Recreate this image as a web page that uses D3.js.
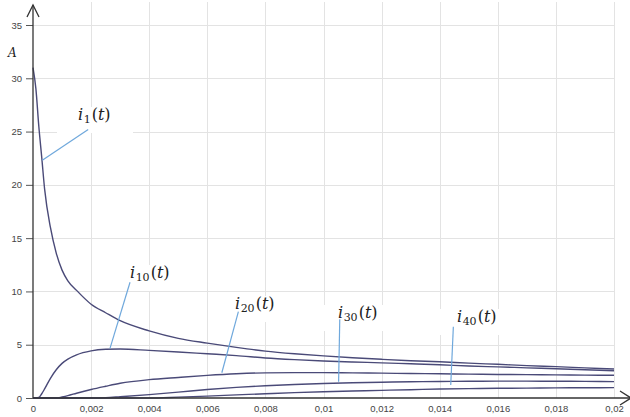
<!DOCTYPE html>
<html>
<head>
<meta charset="utf-8">
<script src="https://cdn.jsdelivr.net/npm/d3@7"></script>
<style>
  html, body { margin: 0; padding: 0; background: #fff; }
  svg { display: block; }
</style>
</head>
<body>
<svg id="chart" width="630" height="417"></svg>
<script>
// ---- data ----
const tVals = [0, 0.0001, 0.0002, 0.0003, 0.0004, 0.0006, 0.0008, 0.001, 0.0012, 0.0015, 0.002, 0.0025, 0.003,
  0.004, 0.005, 0.006, 0.007, 0.008, 0.009, 0.01, 0.011, 0.012, 0.013, 0.014, 0.015, 0.016, 0.017, 0.018, 0.019, 0.02];
const i1  = [31, 29.0, 25.5, 22.6, 19.6, 16.0, 13.6, 12.0, 11.0, 10.1, 8.8, 8.0, 7.25,
  6.3, 5.6, 5.15, 4.75, 4.4, 4.15, 3.95, 3.78, 3.63, 3.5, 3.4, 3.27, 3.16, 3.04, 2.94, 2.83, 2.72];
const i10 = [0, 0, 0.05, 0.4, 0.85, 1.85, 2.65, 3.25, 3.65, 4.05, 4.42, 4.57, 4.6,
  4.47, 4.32, 4.15, 3.98, 3.76, 3.6, 3.47, 3.38, 3.3, 3.21, 3.12, 3.0, 2.92, 2.83, 2.74, 2.65, 2.56];
const i20 = [0, 0, 0, 0, 0, 0, 0, 0.1, 0.22, 0.45, 0.8, 1.1, 1.38,
  1.72, 1.93, 2.12, 2.27, 2.36, 2.38, 2.38, 2.36, 2.33, 2.3, 2.27, 2.24, 2.21, 2.19, 2.17, 2.15, 2.13];
const i30 = [0, 0, 0, 0, 0, 0, 0, 0, 0, 0, 0, 0.03, 0.12,
  0.32, 0.55, 0.8, 1.0, 1.15, 1.27, 1.36, 1.43, 1.48, 1.52, 1.55, 1.57, 1.58, 1.58, 1.57, 1.56, 1.54];
const i40 = [0, 0, 0, 0, 0, 0, 0, 0, 0, 0, 0, 0, 0,
  0, 0.08, 0.18, 0.29, 0.4, 0.5, 0.58, 0.65, 0.72, 0.78, 0.84, 0.88, 0.91, 0.93, 0.95, 0.96, 0.97];
const seriesNames = ["1", "10", "20", "30", "40"];
const xTicks = [0, 0.002, 0.004, 0.006, 0.008, 0.01, 0.012, 0.014, 0.016, 0.018, 0.02];
const yTicks = [0, 5, 10, 15, 20, 25, 30, 35];
// leader anchors in data units
const leaderCurveT = [0.00032, 0.00265, 0.0065, 0.01052, 0.01438];
const leaderCurveV = [22.3, 4.66, 2.37, 1.53, 1.22];
const leaderLabelT = [0.0019, 0.00334, 0.00707, 0.01056, 0.01447];
const leaderLabelV = [25.2, 10.86, 8.1, 7.38, 6.69];

// ---- layout ----
const svg = d3.select("#chart");
const x = d3.scaleLinear().domain([0, 0.02]).range([33, 614]);
const y = d3.scaleLinear().domain([0, 35]).range([398, 25]);

const seriesVals = [i1, i10, i20, i30, i40];
const series = seriesNames.map((n, k) => ({ name: n, pts: tVals.map((t, j) => [t, seriesVals[k][j]]) }));

// grid
const grid = svg.append("g").attr("stroke", "#e3e3e3").attr("stroke-width", 1);
grid.selectAll(".vg").data(xTicks.filter(d => d > 0)).join("line")
  .attr("x1", d => Math.round(x(d)) + 0.5).attr("x2", d => Math.round(x(d)) + 0.5)
  .attr("y1", 2).attr("y2", y(0));
grid.selectAll(".hg").data(yTicks.filter(d => d > 0)).join("line")
  .attr("x1", x(0)).attr("x2", x(0.02) + 0.5)
  .attr("y1", d => Math.round(y(d)) + 0.5).attr("y2", d => Math.round(y(d)) + 0.5);

// label positions (pixels) and white boxes
const labelPos = [[78, 120], [130, 278], [235, 309], [338, 318], [457, 322]];
const boxes = svg.append("g");
labelPos.forEach(([lx, ly], k) => {
  boxes.append("rect").attr("x", lx - 21).attr("y", ly - 13)
    .attr("width", seriesNames[k].length > 1 ? 80 : 76).attr("height", 26).attr("fill", "#fff");
});

// axes
const tickFont = "'Liberation Sans', Arial, sans-serif";
const yAxis = d3.axisLeft(y).tickValues(yTicks).tickSize(7).tickPadding(4).tickFormat(d3.format("d"));
const gy = svg.append("g").attr("transform", `translate(${x(0)},0)`).call(yAxis);
gy.select(".domain").remove();
gy.selectAll(".tick line").attr("stroke", "#555");
gy.selectAll(".tick text").attr("fill", "#444").style("font-family", tickFont).style("font-size", "9.5px");

const xAxis = d3.axisBottom(x).tickValues(xTicks).tickSize(0).tickPadding(7)
  .tickFormat(d => String(d).replace(".", ","));
const gx = svg.append("g").attr("transform", `translate(0,${y(0)})`).call(xAxis);
gx.select(".domain").remove();
gx.selectAll(".tick text").attr("fill", "#444").style("font-family", tickFont).style("font-size", "9.5px");

// curves
const line = d3.line().x(d => x(d[0])).y(d => y(d[1])).curve(d3.curveMonotoneX);
svg.append("g").selectAll("path").data(series).join("path")
  .attr("d", d => line(d.pts)).attr("fill", "none")
  .attr("stroke", "#4a4a78").attr("stroke-width", 1.4);

// axis lines with arrows
const ax = svg.append("g").attr("stroke", "#333").attr("stroke-width", 1.3).attr("fill", "none");
ax.append("line").attr("x1", x(0)).attr("x2", x(0)).attr("y1", y(0)).attr("y2", 5);
ax.append("path").attr("d", `M${x(0) - 6},17 L${x(0)},5 L${x(0) + 6},17`);
ax.append("line").attr("x1", x(0)).attr("x2", 631).attr("y1", y(0)).attr("y2", y(0));
ax.append("path").attr("d", `M620,391 L631,${y(0)} L620,405`);

// leaders
svg.append("g").selectAll("line").data(seriesNames).join("line")
  .attr("x1", (d, k) => x(leaderCurveT[k])).attr("y1", (d, k) => y(leaderCurveV[k]))
  .attr("x2", (d, k) => x(leaderLabelT[k])).attr("y2", (d, k) => y(leaderLabelV[k]))
  .attr("stroke", "#6fa8dc").attr("stroke-width", 1.2);

// labels
const lab = svg.append("g").style("font-family", "'DejaVu Serif', 'Liberation Serif', serif")
  .style("font-size", "16px").attr("fill", "#222");
seriesNames.forEach((n, k) => {
  const t = lab.append("text").attr("x", labelPos[k][0]).attr("y", labelPos[k][1]);
  t.append("tspan").style("font-style", "italic").text("i");
  t.append("tspan").attr("dy", 3).style("font-size", "11px").attr("dx", 0.5).text(n);
  t.append("tspan").attr("dy", -3).attr("dx", 1).text("(");
  t.append("tspan").style("font-style", "italic").text("t");
  t.append("tspan").text(")");
});

// y axis title
svg.append("text").attr("x", 8).attr("y", 57).text("A")
  .style("font-family", "'DejaVu Serif', 'Liberation Serif', serif").style("font-style", "italic")
  .style("font-size", "12px").attr("fill", "#222");
</script>
</body>
</html>
